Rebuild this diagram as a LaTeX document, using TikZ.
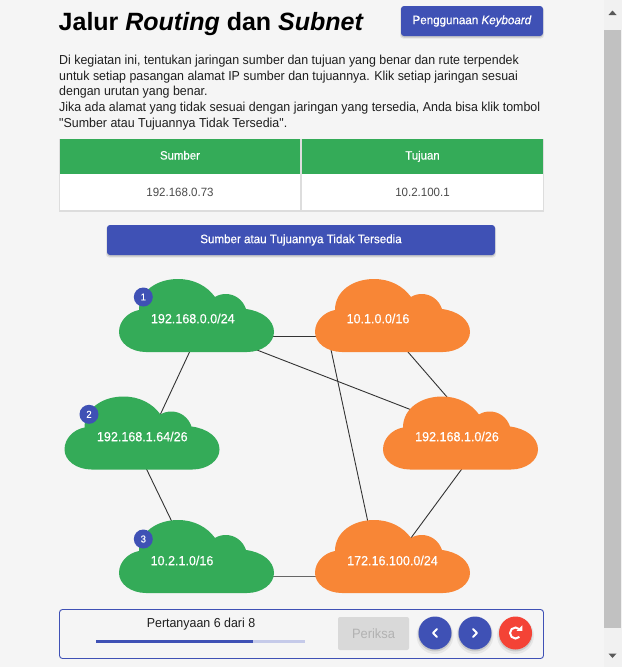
\documentclass[tikz,border=0pt]{standalone}
\usepackage{fontspec}
\setmainfont{Liberation Sans}
\newfontfamily\bodyf[FakeStretch=0.955]{Liberation Sans}
\newfontfamily\cellf[FakeStretch=0.96]{Liberation Sans}
\newfontfamily\medf[FakeBold=0.4,FakeStretch=0.95]{Liberation Sans}
\definecolor{pagebg}{HTML}{F5F5F5}
\definecolor{indigo}{HTML}{3F51B5}
\definecolor{lightindigo}{HTML}{C5CAE9}
\definecolor{grn}{HTML}{34AB58}
\definecolor{org}{HTML}{F88636}
\definecolor{redb}{HTML}{F44336}
\definecolor{rulegray}{HTML}{DDDDDD}
\pgfdeclarelayer{linkslayer}
\pgfdeclarelayer{pagelayer}
\pgfsetlayers{pagelayer,linkslayer,main}
\tikzset{
  link/.style={draw=black!80,line width=0.9pt},
  bodytext/.style={anchor=base west,inner sep=0,font=\bodyf\fontsize{13}{15}\selectfont,text=black!88},
  cloudbox/.style={minimum width=155pt,minimum height=73pt,inner sep=0,outer sep=0},
  cloudlabel/.style={inner sep=0,text=white,font=\medf\fontsize{13.2}{15}\selectfont},
  badge/.style={circle,fill=indigo,minimum size=19pt,inner sep=0,text=white,font=\medf\fontsize{10}{12}\selectfont},
  blubtn/.style={fill=indigo,rounded corners=3pt,inner sep=0,text=white,font=\medf\fontsize{12.2}{14}\selectfont},
  roundbtn/.style={circle,minimum size=33pt,inner sep=0},
  icon/.style={draw=white,line width=2pt},
  headcell/.style={fill=grn,inner sep=0,text=white,text height=9pt,text depth=2.5pt,font=\medf\fontsize{12}{14}\selectfont},
  bodycell/.style={fill=white,inner sep=0,text=black!70,font=\cellf\fontsize{12}{14}\selectfont},
}
\newcommand{\softshadow}[6]{% x1 y1 x2 y2 radius
  \fill[black,opacity=0.07,rounded corners=#5] (#1-1,#2+1) rectangle (#3+1,#4+#6+1);
  \fill[black,opacity=0.12,rounded corners=#5] (#1,#2+1) rectangle (#3,#4+#6);
}
\newcommand{\cloudat}[6]{% name, x0, y0, colour, label centre x, label centre y ; text via \cloudtext
  \node[cloudbox] (#1) at (#2+77.5,#3+36.5) {};
  \fill[#4,shift={(#2,#3)}] (27,73) .. controls (12,73) and (0,64) .. (0,53)
    .. controls (0,42) and (9,33) .. (20,31)
    .. controls (20,12) and (38,0) .. (59,0)
    .. controls (75,0) and (88,7) .. (96,18)
    .. controls (99,16) and (103,15) .. (107,15)
    .. controls (116,15) and (124,21) .. (127,30)
    .. controls (143,32) and (155,41) .. (155,53)
    .. controls (155,64) and (143,73) .. (128,73) -- cycle;
  \node[cloudlabel] (#1t) at (#5,#6) {\cloudtext};
}
\begin{document}
\begin{tikzpicture}[x=1pt,y=-1pt]
\begin{pgfonlayer}{pagelayer}
  \path[use as bounding box,fill=pagebg] (0,0) rectangle (622,667);
  \fill[black!5.5] (604,0) rectangle (622,667);
  \fill[black!24.5] (604,30) rectangle (621,628);
\end{pgfonlayer}
\fill[black!65] (608.5,15) -- (612.5,10.5) -- (616.5,15) -- cycle;
\fill[black!65] (608.5,653.5) -- (612.5,658) -- (616.5,653.5) -- cycle;

% title
\node[anchor=base west,inner sep=0,font=\bfseries\fontsize{25}{30}\selectfont,text=black] (title) at (58.5,30)
  {Jalur \textit{Routing} dan \textit{Subnet}};
% keyboard button
\softshadow{401}{6}{543}{36}{3pt}{1.5}
\node[blubtn,minimum width=142pt,minimum height=30pt] (kbd) at (472,21) {Penggunaan \textit{Keyboard}};

% paragraph
\node[bodytext] (p1) at (59,64) {Di kegiatan ini, tentukan jaringan sumber dan tujuan yang benar dan rute terpendek};
\node[bodytext] (p2) at (59,80) {untuk setiap pasangan alamat IP sumber dan tujuannya. Klik setiap jaringan sesuai};
\node[bodytext] (p3) at (59,95.5) {dengan urutan yang benar.};
\node[bodytext] (p4) at (59,111.5) {Jika ada alamat yang tidak sesuai dengan jaringan yang tersedia, Anda bisa klik tombol};
\node[bodytext] (p5) at (59,127.5) {"Sumber atau Tujuannya Tidak Tersedia".};

% table
\fill[rulegray] (59,138.5) rectangle (544,212);
\node[headcell,minimum width=240.5pt,minimum height=34.5pt] (h1) at (180,156.25) {Sumber};
\node[headcell,minimum width=241pt,minimum height=34.5pt] (h2) at (422.5,156.25) {Tujuan};
\node[bodycell,minimum width=240.5pt,minimum height=36.5pt] (b1) at (180,192) {192.168.0.73};
\node[bodycell,minimum width=241pt,minimum height=36.5pt] (b2) at (422.5,192) {10.2.100.1};

% second button
\softshadow{107}{225}{495}{255}{3pt}{1.5}
\node[blubtn,minimum width=388pt,minimum height=30pt] (nosrc) at (301,240) {Sumber atau Tujuannya Tidak Tersedia};

% clouds
\def\cloudtext{192.168.0.0/24}\cloudat{c1}{119}{279}{grn}{192.8}{318.5}
\def\cloudtext{192.168.1.64/26}\cloudat{c2}{64.5}{396.5}{grn}{142.3}{436.5}
\def\cloudtext{10.2.1.0/16}\cloudat{c3}{119}{520}{grn}{182}{560.5}
\def\cloudtext{10.1.0.0/16}\cloudat{d1}{315}{279}{org}{378}{318.5}
\def\cloudtext{192.168.1.0/26}\cloudat{d2}{383}{396.5}{org}{457}{436.5}
\def\cloudtext{172.16.100.0/24}\cloudat{d3}{315}{520}{org}{392.5}{560.5}

% badges
\node[badge] (n1) at (143.3,297) {1};
\node[badge] (n2) at (89,414.3) {2};
\node[badge] (n3) at (143.3,539) {3};

% connectors
\begin{pgfonlayer}{linkslayer}
  \draw[link] ([shift={(-3.6,29.3)}]c1.center) -- ([shift={(16.1,-13.8)}]c2.center);
  \draw[link] ([shift={(73.5,20.5)}]c1.center) -- ([shift={(-72.5,20.5)}]d1.center);
  \draw[link] ([shift={(53.5,31.8)}]c1.center) -- ([shift={(-44.5,-21.3)}]d2.center);
  \draw[link] ([shift={(-62.5,29.5)}]d1.center) -- ([shift={(-23.5,-29.5)}]d3.center);
  \draw[link] ([shift={(11.5,31.9)}]d1.center) -- ([shift={(-9.5,-31.4)}]d2.center);
  \draw[link] ([shift={(3.5,33)}]d2.center) -- ([shift={(15.5,-14.5)}]d3.center);
  \draw[link] ([shift={(3,33)}]c2.center) -- ([shift={(-22.5,-30.5)}]c3.center);
  \draw[link,draw=black!60,line width=1.3pt] ([shift={(73.5,20.1)}]c3.center) -- ([shift={(-72.5,20.1)}]d3.center);
\end{pgfonlayer}

% bottom panel
\node[draw=indigo,line width=0.9pt,rounded corners=3pt,minimum width=484pt,minimum height=49pt,inner sep=0] (panel) at (301.5,634) {};
\node[inner sep=0,font=\bodyf\fontsize{13}{15}\selectfont,text=black!88] (progress) at (201,624) {Pertanyaan 6 dari 8};
\fill[lightindigo] (96,640) rectangle (305,643);
\fill[indigo] (96,640) rectangle (252.5,643);
\node[fill=black!15,rounded corners=2pt,minimum width=71pt,minimum height=33pt,inner sep=0,text=black!30,font=\bodyf\fontsize{13.5}{15}\selectfont] (check) at (373.5,633.5) {Periksa};

\foreach \cx/\nm/\col in {435/prev/indigo,475/next/indigo,515.5/reset/redb}{
  \fill[black,opacity=0.06] (\cx,635.5) circle (18.5);
  \fill[black,opacity=0.12] (\cx,634.5) circle (17);
  \node[roundbtn,fill=\col] (\nm) at (\cx,633) {};
}
\draw[icon,line cap=round,line join=round] ([shift={(2,-4)}]prev.center) -- ([shift={(-2,0)}]prev.center) -- ([shift={(2,4)}]prev.center);
\draw[icon,line cap=round,line join=round] ([shift={(-2,-4)}]next.center) -- ([shift={(2,0)}]next.center) -- ([shift={(-2,4)}]next.center);
\draw[icon] ([shift={(3.9,3.9)}]reset.center) arc[start angle=-45,end angle=-315,x radius=5.5,y radius=-5.5];
\fill[white] ([shift={(1,-2.2)}]reset.center) -- ([shift={(6.8,-2.2)}]reset.center) -- ([shift={(6.8,-7.6)}]reset.center) -- cycle;
\end{tikzpicture}
\end{document}
